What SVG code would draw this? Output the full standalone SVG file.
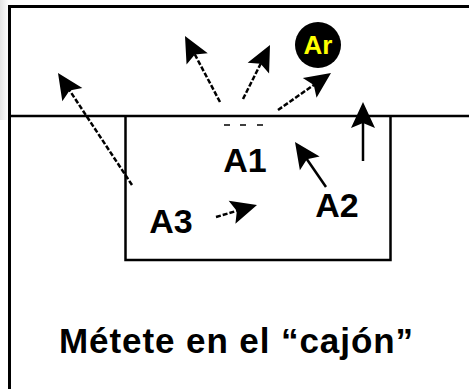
<svg xmlns="http://www.w3.org/2000/svg" width="469" height="389" viewBox="0 0 469 389">
  <defs>
    <linearGradient id="shade" x1="0" y1="0" x2="1" y2="0">
      <stop offset="0" stop-color="#d8d8d8"/>
      <stop offset="1" stop-color="#ffffff"/>
    </linearGradient>
    <path id="head" d="M0,0 L-26,-12 L-21,0 L-26,12 z" fill="#000"/>
    <style>
      .frame { fill: none; stroke: #000; stroke-width: 3; }
      .line { fill: none; stroke: #000; stroke-width: 2.5; }
      .arr { fill: none; stroke: #000; stroke-width: 2.5; }
      .dot { stroke-dasharray: 5 2; }
      .lbl { font-family: "Liberation Sans", Arial, sans-serif; font-weight: bold; fill: #000; }
    </style>
  </defs>
  <rect x="0" y="0" width="469" height="389" fill="#fff"/>
  <rect x="0" y="0" width="9" height="120" fill="url(#shade)" opacity="0.7"/>

  <g id="frame">
    <path class="frame" d="M9.5,389 V6.5 H469"/>
    <line class="line" x1="10" y1="116" x2="469" y2="116"/>
  </g>

  <g id="cajon">
    <path class="line" d="M125.5,116 V260 H390.5 V116"/>
    <path d="M224,125 h6 M240,125 h6 M257,125 h6" stroke="#000" stroke-width="1.5"/>
  </g>

  <g id="connectors">
    <line class="arr dot" x1="132" y1="185" x2="68" y2="88"/>
    <use href="#head" transform="translate(58,73) rotate(-123.45)"/>
    <line class="arr dot" x1="220" y1="102" x2="193" y2="51"/>
    <use href="#head" transform="translate(185,36) rotate(-117.9)"/>
    <line class="arr dot" x1="243" y1="99" x2="263" y2="59"/>
    <use href="#head" transform="translate(270,45) rotate(-63.4)"/>
    <line class="arr dot" x1="278" y1="110" x2="318" y2="82"/>
    <use href="#head" transform="translate(331,73) rotate(-34.9)"/>
    <line class="arr" x1="363" y1="161" x2="363" y2="115"/>
    <use href="#head" transform="translate(363,102) rotate(-90)"/>
    <line class="arr" x1="326" y1="187" x2="304" y2="155"/>
    <use href="#head" transform="translate(295,142) rotate(-124.6)"/>
    <line class="arr dot" x1="216" y1="217" x2="243" y2="209"/>
    <use href="#head" transform="translate(257,205) rotate(-16.3)"/>
  </g>

  <g id="ar">
    <circle cx="318" cy="45" r="23" fill="#000"/>
    <text class="lbl" x="318" y="54" font-size="26" text-anchor="middle" style="fill:#ffff00">Ar</text>
  </g>

  <g id="a1"><text class="lbl" x="245" y="172" font-size="34" text-anchor="middle">A1</text></g>
  <g id="a2"><text class="lbl" x="337" y="217" font-size="34" text-anchor="middle">A2</text></g>
  <g id="a3"><text class="lbl" x="171" y="233" font-size="34" text-anchor="middle">A3</text></g>

  <g id="caption">
    <text class="lbl" x="59" y="353" font-size="35" textLength="354" lengthAdjust="spacing">Métete en el “cajón”</text>
  </g>
</svg>
